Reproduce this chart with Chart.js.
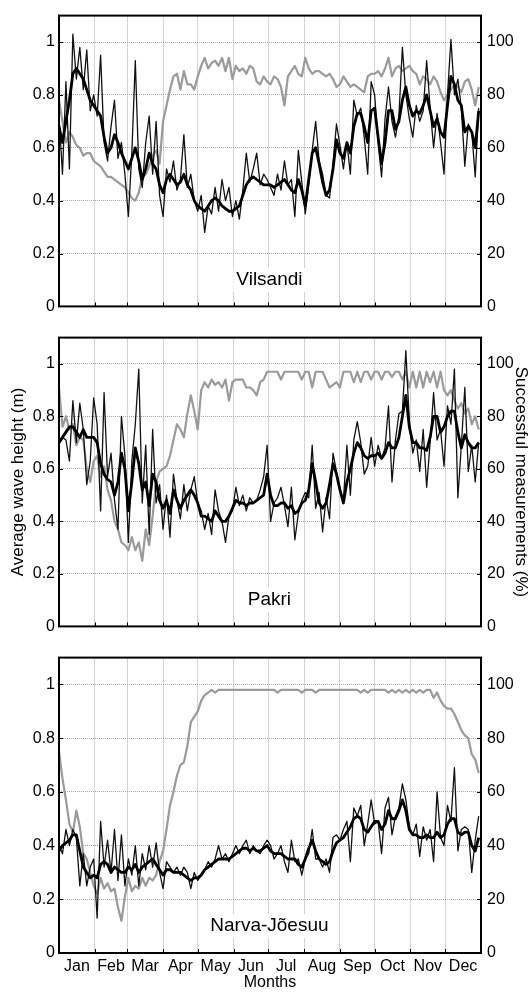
<!DOCTYPE html>
<html><head><meta charset="utf-8">
<script src="https://cdn.jsdelivr.net/npm/chart.js@4.4.1/dist/chart.umd.min.js"></script>
<style>
html,body{margin:0;padding:0;background:#fff;}
#wrap{position:relative;width:528px;height:992px;overflow:hidden;background:#fff;}
canvas{position:absolute;left:0;}
</style></head><body>
<div id="wrap">
<canvas id="c1" width="528" height="322" style="top:0px;width:528px;height:322px"></canvas>
<canvas id="c2" width="528" height="320" style="top:322px;width:528px;height:320px"></canvas>
<canvas id="c3" width="528" height="350" style="top:642px;width:528px;height:350px"></canvas>
</div>
<script>
// ---- categories ----
const MONTHS = ['Jan','Feb','Mar','Apr','May','Jun','Jul','Aug','Sep','Oct','Nov','Dec'];
const MONTH_START_DAYS = [0,31,59,90,120,151,181,212,243,273,304,334,365];
const Y_LEFT_TICKS = [0,0.2,0.4,0.6,0.8,1];
const Y_LEFT_LABELS = ['0','0.2','0.4','0.6','0.8','1'];
const Y_RIGHT_TICKS = [0,20,40,60,80,100];
const Y_RIGHT_LABELS = ['0','20','40','60','80','100'];
const STATIONS = ['Vilsandi','Pakri','Narva-Jõesuu'];

// day of year of each sample
const DAYS = [0,3,6,9,12,15,18,21,24,27,
30,33,36,39,42,45,48,51,54,57,
60,63,66,69,72,75,78,81,84,87,
90,93,96,99,102,105,108,111,114,117,
120,123,126,129,132,135,138,141,144,147,
150,153,156,159,162,165,168,171,174,177,
180,183,186,189,192,195,198,201,204,207,
210,213,216,219,222,225,228,231,234,237,
240,243,246,249,252,255,258,261,264,267,
270,273,276,279,282,285,288,291,294,297,
300,303,306,309,312,315,318,321,324,327,
330,333,336,339,342,345,348,351,354,357,
360,363];

// ---- Vilsandi ----
const vilsandiDaily = [0.72,0.50,0.85,0.52,1.03,0.86,0.98,0.82,0.97,0.74,
0.80,0.72,0.95,0.62,0.55,0.68,0.78,0.56,0.62,0.50,
0.34,0.58,0.93,0.52,0.45,0.62,0.72,0.50,0.70,0.42,
0.34,0.52,0.47,0.55,0.44,0.48,0.65,0.45,0.50,0.40,
0.36,0.42,0.28,0.38,0.35,0.45,0.36,0.48,0.40,0.45,
0.34,0.40,0.33,0.44,0.58,0.47,0.52,0.58,0.46,0.50,
0.48,0.45,0.42,0.50,0.44,0.55,0.46,0.48,0.34,0.59,
0.47,0.35,0.46,0.59,0.70,0.55,0.50,0.42,0.41,0.54,
0.69,0.61,0.52,0.62,0.50,0.78,0.72,0.75,0.64,0.50,
0.85,0.80,0.62,0.49,0.71,0.83,0.70,0.64,0.72,0.98,
0.80,0.71,0.64,0.76,0.70,0.74,0.93,0.75,0.60,0.73,
0.62,0.50,0.80,1.01,0.80,0.86,0.75,0.53,0.69,0.66,
0.49,0.75];
const vilsandiSmooth = [0.68,0.62,0.70,0.78,0.88,0.90,0.88,0.86,0.82,0.78,
0.76,0.74,0.72,0.64,0.58,0.60,0.65,0.62,0.58,0.55,
0.52,0.56,0.60,0.55,0.48,0.52,0.58,0.54,0.52,0.46,
0.43,0.48,0.50,0.48,0.46,0.47,0.50,0.46,0.44,0.40,
0.38,0.37,0.36,0.38,0.40,0.41,0.40,0.38,0.37,0.36,
0.36,0.37,0.38,0.42,0.46,0.48,0.49,0.48,0.47,0.46,
0.46,0.46,0.45,0.46,0.47,0.48,0.46,0.44,0.43,0.48,
0.44,0.38,0.48,0.58,0.60,0.54,0.47,0.42,0.44,0.52,
0.63,0.58,0.56,0.62,0.58,0.68,0.73,0.73,0.68,0.62,
0.74,0.75,0.64,0.54,0.62,0.74,0.74,0.67,0.70,0.78,
0.83,0.76,0.72,0.74,0.73,0.76,0.80,0.74,0.68,0.71,
0.66,0.64,0.76,0.87,0.84,0.78,0.76,0.66,0.68,0.66,
0.60,0.74];
const vilsandiSuccess = [78,70,62,66,64,61,60,57,58,58,
55,54,53,51,49,49,48,47,46,45,
43,41,40,43,49,50,53,57,59,54,
70,76,82,87,88,82,89,84,84,82,
87,91,94,90,92,93,91,94,89,94,
86,91,89,90,88,91,90,85,84,87,
85,84,87,86,83,76,87,89,91,88,
87,94,90,88,89,89,88,87,88,86,
83,84,87,85,83,84,83,82,81,87,
88,88,89,87,90,94,87,90,91,89,
90,91,89,88,84,87,86,84,87,85,
81,78,80,82,84,83,81,85,86,82,
76,83];

// ---- Pakri ----
const pakriDaily = [0.70,0.72,0.71,0.63,0.86,0.70,0.85,0.75,0.54,0.63,
0.87,0.77,0.44,0.89,0.57,0.66,0.48,0.37,0.80,0.65,
0.32,0.63,0.77,0.98,0.47,0.69,0.35,0.75,0.47,0.54,
0.37,0.50,0.34,0.58,0.48,0.41,0.54,0.44,0.52,0.57,
0.47,0.44,0.37,0.43,0.35,0.52,0.44,0.40,0.32,0.42,
0.44,0.53,0.46,0.50,0.44,0.49,0.47,0.48,0.52,0.57,
0.69,0.40,0.47,0.49,0.53,0.46,0.38,0.53,0.33,0.43,
0.48,0.51,0.49,0.69,0.45,0.51,0.36,0.49,0.41,0.66,
0.59,0.52,0.48,0.69,0.50,0.71,0.78,0.70,0.58,0.61,
0.72,0.61,0.69,0.64,0.68,0.84,0.55,0.71,0.81,0.82,
1.05,0.78,0.66,0.71,0.59,0.75,0.53,0.70,0.89,0.71,
0.75,0.61,0.84,0.77,0.98,0.49,0.69,0.91,0.59,0.69,
0.55,0.70];
const pakriSmooth = [0.70,0.72,0.74,0.76,0.76,0.74,0.72,0.75,0.72,0.72,
0.72,0.70,0.62,0.58,0.56,0.55,0.50,0.55,0.66,0.60,
0.44,0.55,0.68,0.62,0.52,0.55,0.46,0.58,0.55,0.48,
0.45,0.48,0.43,0.52,0.48,0.45,0.48,0.50,0.52,0.50,
0.47,0.42,0.42,0.41,0.40,0.44,0.42,0.40,0.40,0.42,
0.45,0.48,0.47,0.47,0.46,0.47,0.47,0.48,0.49,0.50,
0.58,0.50,0.46,0.46,0.47,0.47,0.45,0.46,0.43,0.44,
0.47,0.48,0.52,0.62,0.55,0.47,0.45,0.47,0.54,0.62,
0.58,0.52,0.47,0.55,0.60,0.66,0.70,0.68,0.65,0.64,
0.65,0.65,0.66,0.64,0.66,0.70,0.68,0.68,0.72,0.80,
0.88,0.76,0.70,0.70,0.68,0.68,0.67,0.72,0.80,0.80,
0.74,0.76,0.80,0.82,0.82,0.74,0.68,0.73,0.70,0.68,
0.68,0.70];
const pakriSuccess = [91,76,80,75,77,69,72,71,60,55,
63,65,57,61,52,48,40,37,32,31,
29,34,29,32,25,37,31,42,55,59,
60,61,65,71,77,75,72,81,88,82,
75,90,93,91,94,92,93,91,94,86,
93,94,94,94,91,91,90,88,93,94,
97,97,97,97,94,97,97,97,97,97,
94,97,97,91,97,97,97,94,91,92,
93,91,97,97,97,93,97,93,97,97,
94,97,97,94,97,97,95,97,97,94,
97,91,97,91,97,91,97,93,97,91,
97,90,88,90,86,83,85,81,83,77,
80,75];

// ---- Narva-Jõesuu ----
const narvaDaily = [0.40,0.37,0.46,0.40,0.46,0.43,0.25,0.37,0.25,0.32,
0.35,0.13,0.49,0.32,0.42,0.30,0.46,0.27,0.44,0.25,
0.35,0.29,0.40,0.25,0.37,0.31,0.40,0.32,0.41,0.30,
0.24,0.34,0.32,0.30,0.32,0.29,0.32,0.30,0.24,0.30,
0.27,0.29,0.31,0.34,0.32,0.35,0.40,0.35,0.37,0.34,
0.37,0.40,0.37,0.40,0.42,0.37,0.40,0.38,0.37,0.40,
0.42,0.40,0.35,0.37,0.40,0.34,0.30,0.42,0.34,0.35,
0.29,0.35,0.37,0.46,0.35,0.35,0.32,0.35,0.30,0.43,
0.44,0.42,0.46,0.49,0.34,0.54,0.51,0.55,0.40,0.48,
0.57,0.48,0.49,0.37,0.54,0.58,0.44,0.51,0.54,0.63,
0.57,0.47,0.44,0.48,0.36,0.47,0.42,0.46,0.34,0.60,
0.43,0.40,0.55,0.49,0.69,0.38,0.46,0.47,0.46,0.30,
0.42,0.51];
const narvaSmooth = [0.38,0.40,0.41,0.42,0.44,0.44,0.38,0.32,0.30,0.28,
0.29,0.28,0.33,0.34,0.33,0.30,0.32,0.31,0.30,0.30,
0.32,0.31,0.33,0.30,0.32,0.33,0.34,0.35,0.33,0.31,
0.29,0.31,0.31,0.30,0.30,0.30,0.29,0.28,0.27,0.28,
0.28,0.29,0.31,0.32,0.33,0.34,0.35,0.35,0.35,0.35,
0.36,0.37,0.38,0.39,0.39,0.38,0.39,0.38,0.38,0.39,
0.40,0.38,0.37,0.37,0.37,0.36,0.35,0.35,0.35,0.33,
0.32,0.35,0.39,0.42,0.38,0.35,0.34,0.33,0.34,0.38,
0.41,0.42,0.43,0.45,0.47,0.50,0.51,0.50,0.46,0.45,
0.47,0.49,0.49,0.46,0.48,0.53,0.50,0.50,0.53,0.57,
0.53,0.46,0.44,0.44,0.43,0.43,0.44,0.43,0.43,0.45,
0.43,0.44,0.48,0.50,0.50,0.45,0.44,0.45,0.45,0.40,
0.38,0.43];
const narvaSuccess = [75,65,57,48,45,53,47,37,35,30,
25,22,28,24,26,23,24,17,12,21,
28,23,25,24,28,25,28,27,29,34,
38,46,55,60,66,70,71,77,86,88,
90,94,96,97,98,97,98,98,98,98,
98,98,98,98,98,98,98,98,98,98,
98,98,98,97,98,98,98,98,98,98,
97,98,98,98,97,98,98,98,98,98,
98,98,98,98,98,98,98,97,98,97,
98,98,98,98,98,97,98,97,98,97,
98,97,98,97,98,97,98,98,95,97,
94,92,91,91,89,86,83,81,80,74,
72,67];

// ---- drawing ----
Chart.defaults.font.family = "'Liberation Sans', Arial, Helvetica, sans-serif";
Chart.defaults.font.size = 16;
Chart.defaults.color = '#000';

const GRID = '#a8a8a8';
const DASH = [1,1];
const MONTH_MIDS = MONTH_START_DAYS.slice(0,12).map((d,i)=> (d + MONTH_START_DAYS[i+1]) / 2);
const X_TICKS = MONTH_START_DAYS.concat(MONTH_MIDS).sort((a,b)=>a-b);
const boundarySet = new Set(MONTH_START_DAYS);
const midLabel = new Map(MONTH_MIDS.map((d,i)=>[d, MONTHS[i]]));

function pts(vals){ return DAYS.map((d,i)=>({x:d, y:vals[i]})); }

function makePlugin(stationName){
  return {
    id: 'frame',
    afterDraw(chart){
      const {ctx, chartArea:a, scales} = chart;
      ctx.save();
      // station label
      const px = scales.x.getPixelForValue(182);
      const py = scales.y.getPixelForValue(0.1);
      ctx.font = "19px 'Liberation Sans', Arial, sans-serif";
      const w = ctx.measureText(stationName).width;
      ctx.fillStyle = '#fff';
      ctx.fillRect(px - w/2 - 3, py - 12, w + 6, 24);
      ctx.fillStyle = '#000';
      ctx.textAlign = 'center';
      ctx.textBaseline = 'middle';
      ctx.fillText(stationName, px, py);
      // inward tick marks
      ctx.strokeStyle = '#000';
      ctx.lineWidth = 1;
      ctx.beginPath();
      MONTH_START_DAYS.forEach(d=>{
        const x = Math.round(scales.x.getPixelForValue(d)) + 0.5;
        ctx.moveTo(x, a.bottom); ctx.lineTo(x, a.bottom - 4);
      });
      Y_LEFT_TICKS.forEach(v=>{
        const y = Math.round(scales.y.getPixelForValue(v)) + 0.5;
        ctx.moveTo(a.left, y); ctx.lineTo(a.left + 4, y);
        ctx.moveTo(a.right, y); ctx.lineTo(a.right - 4, y);
      });
      ctx.stroke();
      // frame
      ctx.lineWidth = 2;
      ctx.strokeRect(a.left, a.top, a.right - a.left, a.bottom - a.top);
      ctx.restore();
    }
  };
}

function buildChart(id, station, daily, smooth, success, cfg){
  return new Chart(document.getElementById(id), {
    type: 'line',
    data: {
      datasets: [
        {label:'smoothed', data: pts(smooth), borderColor:'#000', borderWidth:2.8, yAxisID:'y'},
        {label:'daily', data: pts(daily), borderColor:'#111', borderWidth:1.3, yAxisID:'y'},
        {label:'successful', data: pts(success), borderColor:'#9a9a9a', borderWidth:2.2, yAxisID:'y2'}
      ]
    },
    options: {
      responsive:false, animation:false, devicePixelRatio:1,
      elements:{ point:{radius:0, hoverRadius:0}, line:{tension:0, borderJoinStyle:'round', fill:false} },
      layout:{ padding:{ top:cfg.padTop, left:0, right:0, bottom:0 } },
      plugins:{ legend:{display:false}, tooltip:{enabled:false} },
      events: [],
      scales:{
        x:{
          type:'linear', position:'bottom', min:0, max:365,
          afterBuildTicks:(s)=>{ s.ticks = X_TICKS.map(v=>({value:v})); },
          afterFit:(s)=>{ s.height = cfg.xHeight; },
          ticks:{ autoSkip:false, maxRotation:0, minRotation:0, padding:4, color:'#000',
            callback:(v)=> cfg.showMonths ? (midLabel.get(v) || '') : '' },
          grid:{ drawTicks:false, lineWidth:1, borderDash:DASH,
            color:(c)=> (c.tick && boundarySet.has(c.tick.value)) ? GRID : 'rgba(0,0,0,0)' },
          border:{ display:false, dash:DASH },
          title:{ display:cfg.showMonths, text:'Months', color:'#000', font:{size:16}, padding:{top:0,bottom:0} }
        },
        y:{
          type:'linear', position:'left', min:0, max:1.1,
          afterBuildTicks:(s)=>{ s.ticks = Y_LEFT_TICKS.map(v=>({value:v})); },
          afterFit:(s)=>{ s.width = 59; },
          ticks:{ padding:4, color:'#000', callback:(v)=>{ const i = Y_LEFT_TICKS.indexOf(v); return i>=0 ? Y_LEFT_LABELS[i] : ''; } },
          grid:{ drawTicks:false, color:GRID, lineWidth:1, borderDash:DASH },
          border:{ display:false, dash:DASH },
          title:{ display:cfg.showTitles, text:'Average wave height (m)', color:'#000', font:{size:17}, padding:{top:8,bottom:0} }
        },
        y2:{
          type:'linear', position:'right', min:0, max:110,
          afterBuildTicks:(s)=>{ s.ticks = Y_RIGHT_TICKS.map(v=>({value:v})); },
          afterFit:(s)=>{ s.width = 47; },
          ticks:{ padding:6, color:'#000', callback:(v)=>{ const i = Y_RIGHT_TICKS.indexOf(v); return i>=0 ? Y_RIGHT_LABELS[i] : ''; } },
          grid:{ drawTicks:false, drawOnChartArea:false },
          border:{ display:false },
          title:{ display:cfg.showTitles, text:'Successful measurements (%)', color:'#000', font:{size:17}, padding:{top:-3,bottom:0} }
        }
      }
    },
    plugins:[makePlugin(station)]
  });
}

buildChart('c1', STATIONS[0], vilsandiDaily, vilsandiSmooth, vilsandiSuccess, {padTop:11, xHeight:8, showMonths:false, showTitles:false});
buildChart('c2', STATIONS[1], pakriDaily, pakriSmooth, pakriSuccess, {padTop:9, xHeight:8, showMonths:false, showTitles:true});
buildChart('c3', STATIONS[2], narvaDaily, narvaSmooth, narvaSuccess, {padTop:8, xHeight:39, showMonths:true, showTitles:false});
</script>
</body></html>
